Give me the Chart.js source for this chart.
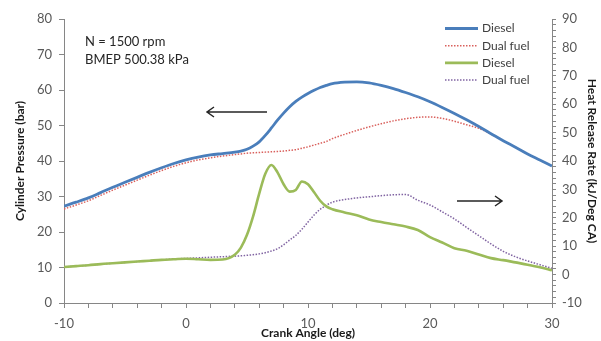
<!DOCTYPE html>
<html>
<head>
<meta charset="utf-8">
<script src="https://cdn.jsdelivr.net/npm/chart.js@4/dist/chart.umd.min.js"></script>
<style>
    html, body { margin: 0; padding: 0; background: #fff; }
    #wrap { width: 601px; height: 341px; position: relative; }
</style>
</head>
<body>
<div id="wrap"><canvas id="hrrChart"></canvas></div>
<script>
'use strict';

// Crank angle positions (deg), finer around the combustion peak
const crankAngle = [
    -10, -9, -8, -7, -6, -5, -4, -3, -2, -1, 0, 1, 2, 3, 4,
    4.5, 5, 5.5, 6, 6.5, 7, 7.5, 8, 8.5, 9, 9.5, 10, 10.5, 11, 11.5, 12,
    13, 14, 15, 16, 17, 18, 19, 20, 21, 22, 23, 24, 25, 26, 27, 28, 29, 30
];

// Cylinder pressure (bar) - left axis
const dieselPressure = [
    27.3, 28.4, 29.6, 31.1, 32.6, 34.0, 35.4, 36.8, 38.1, 39.3, 40.3, 41.1, 41.7, 42.1, 42.5,
    42.8, 43.3, 44.2, 45.4, 47.2, 49.3, 51.5, 53.5, 55.3, 56.8, 58.0, 59.0, 59.9, 60.7, 61.3, 61.8,
    62.2, 62.3, 62.0, 61.3, 60.4, 59.3, 58.1, 56.7, 55.1, 53.4, 51.6, 49.7, 47.7, 45.7, 43.9, 42.0, 40.3, 38.6
];
const dualPressure = [
    26.5, 27.6, 28.8, 30.3, 31.8, 33.2, 34.6, 36.0, 37.3, 38.5, 39.5, 40.3, 40.9, 41.4, 41.8,
    42.0, 42.2, 42.3, 42.4, 42.5, 42.6, 42.7, 42.8, 43.0, 43.2, 43.6, 44.0, 44.5, 45.0, 45.5, 46.3,
    47.5, 48.6, 49.6, 50.5, 51.3, 51.9, 52.3, 52.4, 52.0, 51.2, 50.2, 49.2, 47.6, 45.7, 43.9, 42.0, 40.3, 38.6
];

// Heat release rate (kJ/Deg CA) - right axis
const dieselHrr = [
    2.7, 3.0, 3.3, 3.7, 4.0, 4.3, 4.6, 4.9, 5.2, 5.4, 5.6, 5.4, 5.2, 5.3, 7.0,
    9.5, 14.0, 20.5, 28.5, 35.5, 38.6, 36.0, 31.8, 29.2, 29.8, 32.8, 31.8, 29.0, 26.0, 24.0, 23.0,
    21.9, 20.9, 19.4, 18.5, 17.7, 16.9, 15.7, 13.2, 11.3, 9.3, 8.4, 7.1, 5.8, 5.1, 4.3, 3.5, 2.6, 1.5
];
const dualHrr = [
    2.7, 3.0, 3.3, 3.7, 4.0, 4.3, 4.6, 4.9, 5.2, 5.5, 5.7, 5.9, 6.1, 6.3, 6.5,
    6.6, 6.8, 7.0, 7.3, 7.7, 8.3, 9.1, 10.5, 12.2, 13.8, 16.0, 18.5, 21.0, 23.0, 24.4, 25.5,
    26.4, 27.0, 27.4, 27.8, 28.1, 28.2, 26.2, 24.5, 22.1, 19.6, 16.6, 13.7, 10.8, 8.2, 6.3, 4.8, 3.5, 2.2
];

const seriesLabels = ['Diesel', 'Dual fuel', 'Diesel', 'Dual fuel'];
const noteLines = ['N = 1500 rpm', 'BMEP 500.38 kPa'];

const AXIS_COLOR = '#868686';
const TICK_COLOR = '#595959';
const FONT = 'Lato, "Open Sans", sans-serif';

const toPoints = (ys) => ys.map((y, i) => ({ x: crankAngle[i], y: y }));
const tenOnly = (v) => (Math.round(v) % 10 === 0 ? v : '');

// Legend, notes and arrows drawn on top of the plot
const overlayPlugin = {
    id: 'overlay',
    afterDraw(chart) {
        const ctx = chart.ctx;
        ctx.save();

        // legend (top right)
        chart.data.datasets.forEach((ds, i) => {
            const y = 28.5 + i * 17.2;
            ctx.strokeStyle = ds.borderColor;
            ctx.lineWidth = ds.borderWidth;
            ctx.setLineDash(ds.borderDash || []);
            ctx.beginPath();
            ctx.moveTo(445, y);
            ctx.lineTo(478, y);
            ctx.stroke();
            ctx.setLineDash([]);
            ctx.fillStyle = '#404040';
            ctx.font = '12px ' + FONT;
            ctx.textBaseline = 'middle';
            ctx.fillText(seriesLabels[i], 482, y);
        });

        // operating point note
        ctx.fillStyle = '#262626';
        ctx.font = '13px ' + FONT;
        ctx.textBaseline = 'middle';
        ctx.fillText(noteLines[0], 85, 42);
        ctx.fillText(noteLines[1], 85, 60);

        // arrows pointing to each axis
        drawArrow(ctx, 267, 112, 207, 112);
        drawArrow(ctx, 457, 201, 502, 201);

        ctx.restore();
    }
};

function drawArrow(ctx, x1, y1, x2, y2) {
    const dir = Math.sign(x2 - x1);
    ctx.strokeStyle = '#262626';
    ctx.lineWidth = 1.5;
    ctx.beginPath();
    ctx.moveTo(x1, y1);
    ctx.lineTo(x2, y2);
    ctx.moveTo(x2 - dir * 7, y2 - 5);
    ctx.lineTo(x2, y2);
    ctx.lineTo(x2 - dir * 7, y2 + 5);
    ctx.stroke();
}

function makeDataset(values, color, width, dash, axis) {
    return {
        data: toPoints(values),
        borderColor: color,
        borderWidth: width,
        borderDash: dash,
        pointRadius: 0,
        cubicInterpolationMode: 'monotone',
        fill: false,
        yAxisID: axis
    };
}

document.addEventListener('DOMContentLoaded', () => {
    new Chart(document.getElementById('hrrChart'), {
        type: 'line',
        data: {
            datasets: [
                makeDataset(dieselPressure, '#4a7ebb', 2.8, [], 'y'),
                makeDataset(dualPressure, '#d9605c', 1.5, [1.5, 1.5], 'y'),
                makeDataset(dieselHrr, '#9bbb59', 2.6, [], 'y1'),
                makeDataset(dualHrr, '#8064a2', 1.5, [1.5, 1.5], 'y1')
            ]
        },
        options: {
            responsive: true,
            maintainAspectRatio: false,
            animation: false,
            layout: { padding: { top: 19, left: 0, right: 0, bottom: 0 } },
            plugins: {
                legend: { display: false },
                tooltip: { enabled: false }
            },
            scales: {
                x: {
                    type: 'linear',
                    min: -10,
                    max: 30,
                    afterFit: (s) => { s.height = 38; },
                    ticks: {
                        stepSize: 2,
                        autoSkip: false,
                        maxRotation: 0,
                        padding: 8,
                        color: TICK_COLOR,
                        font: { family: FONT, size: 13 },
                        callback: tenOnly
                    },
                    grid: { drawOnChartArea: false, color: AXIS_COLOR, tickLength: 5 },
                    border: { color: AXIS_COLOR },
                    title: {
                        display: true,
                        text: 'Crank Angle (deg)',
                        color: '#1a1a1a',
                        font: { family: FONT, size: 12, weight: 'bold' },
                        padding: { top: 0, bottom: 1 }
                    }
                },
                y: {
                    position: 'left',
                    min: 0,
                    max: 80,
                    afterFit: (s) => { s.width = 64; },
                    ticks: {
                        stepSize: 10,
                        padding: 7,
                        color: TICK_COLOR,
                        font: { family: FONT, size: 13 }
                    },
                    grid: { drawOnChartArea: false, color: AXIS_COLOR, tickLength: 5 },
                    border: { color: AXIS_COLOR },
                    title: {
                        display: true,
                        text: 'Cylinder Pressure (bar)',
                        color: '#1a1a1a',
                        font: { family: FONT, size: 12, weight: 'bold' },
                        padding: { top: 13, bottom: 0 }
                    }
                },
                y1: {
                    position: 'right',
                    min: -10,
                    max: 90,
                    afterFit: (s) => { s.width = 49; },
                    ticks: {
                        stepSize: 2,
                        autoSkip: false,
                        padding: 6,
                        color: TICK_COLOR,
                        font: { family: FONT, size: 13 },
                        callback: tenOnly
                    },
                    grid: { drawOnChartArea: false, color: AXIS_COLOR, tickLength: 4 },
                    border: { color: AXIS_COLOR },
                    title: {
                        display: true,
                        text: 'Heat Release Rate (kJ/Deg CA)',
                        color: '#1a1a1a',
                        font: { family: FONT, size: 12, weight: 'bold' },
                        padding: { top: 2, bottom: 0 }
                    }
                }
            }
        },
        plugins: [overlayPlugin]
    });
});
</script>
</body>
</html>
